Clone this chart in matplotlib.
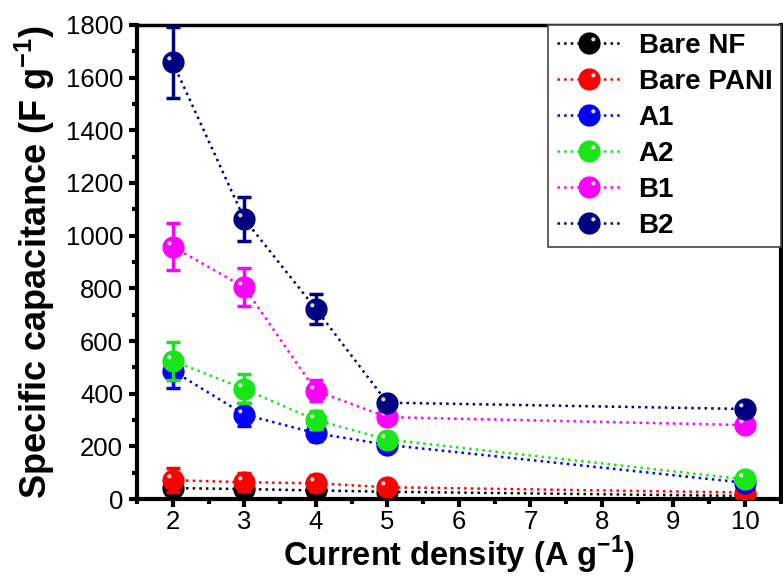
import matplotlib
matplotlib.use('Agg')
import matplotlib.pyplot as plt
from matplotlib.ticker import MultipleLocator
from matplotlib.legend_handler import HandlerTuple
from matplotlib.path import Path

plt.rcParams['font.family'] = ['Liberation Sans', 'DejaVu Sans']
plt.rcParams['mathtext.fontset'] = 'custom'
plt.rcParams['mathtext.bf'] = 'Liberation Sans:bold'
plt.rcParams['mathtext.rm'] = 'Liberation Sans'

# current density (A/g)
current = [2, 3, 4, 5, 10]

labels = ['Bare NF', 'Bare PANI', 'A1', 'A2', 'B1', 'B2']
colors = ['#000000', '#ff0000', '#0000ff', '#19e619', '#ff00ff', '#000080']

# specific capacitance (F/g) and error bars
bare_nf = [42, 38, 33, 28, 12]
bare_nf_err = [20, 18, 15, 12, 8]
bare_pani = [72, 64, 60, 45, 25]
bare_pani_err = [45, 35, 30, 15, 10]
a1 = [487, 321, 250, 206, 62]
a1_err = [65, 45, 30, 20, 20]
a2 = [525, 418, 300, 226, 75]
a2_err = [72, 55, 35, 20, 15]
b1 = [958, 804, 411, 311, 281]
b1_err = [88, 72, 40, 15, 10]
b2 = [1657, 1063, 722, 366, 342]
b2_err = [135, 85, 58, 15, 10]

series = [bare_nf, bare_pani, a1, a2, b1, b2]
errors = [bare_nf_err, bare_pani_err, a1_err, a2_err, b1_err, b2_err]

# small off-centre dot used as the shiny highlight on each ball
glint = Path.circle(center=(-0.4, 0.4), radius=0.2)

fig, ax = plt.subplots(figsize=(7.83, 5.77), dpi=100)
fig.subplots_adjust(left=0.175, right=0.997, top=0.957, bottom=0.135)

handles = []
for i, (y, e, c, lab) in enumerate(zip(series, errors, colors, labels)):
    ax.errorbar(current, y, yerr=e, fmt='none', ecolor=c, elinewidth=2.5,
                capsize=5, capthick=2.5, zorder=2 + i)
    ln, = ax.plot(current, y, ':', color=c, lw=1.8, marker='o', ms=15,
                  mfc=c, mec=c, zorder=3 + i)
    hl, = ax.plot(current, y, linestyle='none', marker=glint, ms=9,
                  mfc='white', mec='none', alpha=0.85, zorder=3.5 + i)
    handles.append((ln, hl))

ax.set_xlim(1.5, 10.5)
ax.set_ylim(0, 1800)
ax.xaxis.set_major_locator(MultipleLocator(1))
ax.xaxis.set_minor_locator(MultipleLocator(0.5))
ax.yaxis.set_major_locator(MultipleLocator(200))
ax.yaxis.set_minor_locator(MultipleLocator(100))
ax.tick_params(which='major', direction='out', length=6, width=3,
               labelsize=18.5, pad=4)
ax.tick_params(axis='x', which='major', pad=2)
ax.tick_params(which='minor', direction='out', length=3.5, width=3)
for s in ax.spines.values():
    s.set_linewidth(3)
ax.spines['top'].set_linewidth(2.5)

ax.set_xlabel('Current density (A g$^{\\mathbf{-1}}$)', fontsize=23.5,
              fontweight='bold', labelpad=0)
ax.set_ylabel('Specific capacitance (F g$^{\\mathbf{-1}}$)', fontsize=26,
              fontweight='bold', labelpad=6)

leg = ax.legend(handles, labels, handler_map={tuple: HandlerTuple(ndivide=None, pad=-2.0)},
                loc='upper right', prop={'weight': 'bold', 'size': 20},
                frameon=True, fancybox=False, edgecolor='#444444',
                borderpad=0.3, labelspacing=0.36, handlelength=2.6,
                handletextpad=0.35, borderaxespad=0)
leg.get_frame().set_linewidth(1.2)
leg.get_frame().set_alpha(1)

fig.savefig('out.png', dpi=100)
